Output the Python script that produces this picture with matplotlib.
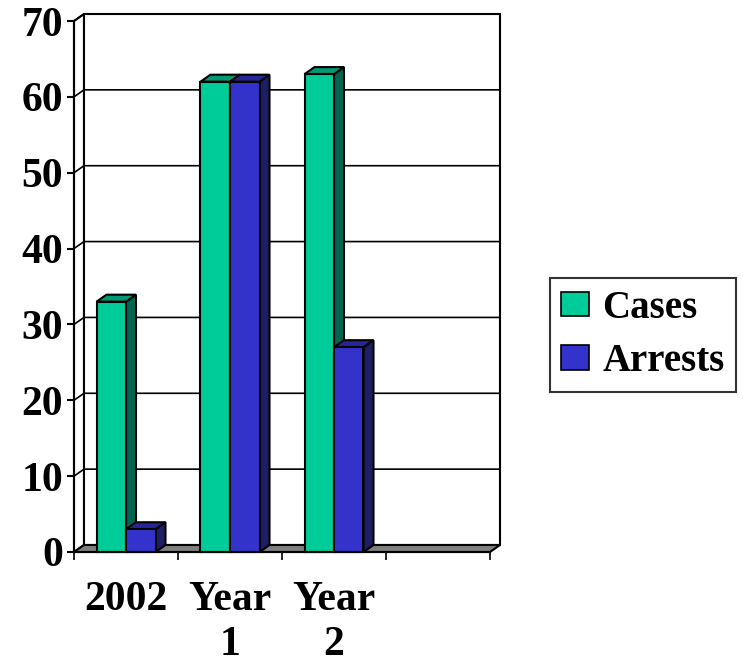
import matplotlib
matplotlib.use("Agg")
import matplotlib.pyplot as plt
from matplotlib.patches import Polygon, Patch

plt.rcParams["font.family"] = ["Liberation Serif", "DejaVu Serif"]
plt.rcParams["font.weight"] = "bold"

categories = ["2002", "Year\n1", "Year\n2"]
n_slots = 4  # the category axis keeps one empty slot on the right
cases = [33, 62, 63]
arrests = [3, 62, 27]
yticks = [0, 10, 20, 30, 40, 50, 60, 70]

series = [
    ("Cases", cases, "#00CC99", "#009973", "#006650"),
    ("Arrests", arrests, "#3333CC", "#262699", "#1E1E66"),
]

fig = plt.figure(figsize=(7.43, 6.63), dpi=100)
W, H = 743, 663
ax = fig.add_axes([74 / W, 111 / H, 416 / W, 531 / H])
ax.set_xlim(0, n_slots)
ax.set_ylim(0, 70)

# depth offset of the pseudo-3D box, in data units
dx = 10 / 104
dy = 7 / (531 / 70)
ytop = yticks[-1]
lw = 1.5

# left side wall and back wall
ax.add_patch(Polygon([(0, 0), (dx, dy), (dx, ytop + dy), (0, ytop)],
                     facecolor="white", edgecolor="black", lw=lw, clip_on=False, zorder=1))
ax.add_patch(Polygon([(dx, dy), (n_slots + dx, dy), (n_slots + dx, ytop + dy), (dx, ytop + dy)],
                     facecolor="white", edgecolor="black", lw=lw, clip_on=False, zorder=1))
for y in yticks[1:]:
    ax.plot([0, dx, n_slots + dx], [y, y + dy, y + dy], color="black", lw=1.2,
            clip_on=False, zorder=2)

# floor
ax.add_patch(Polygon([(0, 0), (n_slots, 0), (n_slots + dx, dy), (dx, dy)],
                     facecolor="#808080", edgecolor="black", lw=lw, clip_on=False, zorder=3))

gap = 22.5 / 104
width = 29.5 / 104
for i in range(len(categories)):
    for k, (name, vals, front, top, side) in enumerate(series):
        v = vals[i]
        xl = i + gap + k * width
        xr = xl + width
        kw = dict(edgecolor="black", lw=lw, clip_on=False, zorder=4 + k)
        ax.add_patch(Polygon([(xr, 0), (xr + dx, dy), (xr + dx, v + dy), (xr, v)],
                             facecolor=side, **kw))
        ax.add_patch(Polygon([(xl, v), (xr, v), (xr + dx, v + dy), (xl + dx, v + dy)],
                             facecolor=top, **kw))
        ax.add_patch(Polygon([(xl, 0), (xr, 0), (xr, v), (xl, v)],
                             facecolor=front, **kw))

for s in ["top", "right"]:
    ax.spines[s].set_visible(False)
for s in ["left", "bottom"]:
    ax.spines[s].set_linewidth(lw)
    ax.spines[s].set_zorder(10)

ax.set_yticks(yticks)
ax.set_yticklabels([str(t) for t in yticks], fontsize=30, fontweight="bold")
ax.tick_params(axis="y", direction="out", length=5, width=lw, pad=3)

ax.set_xticks(range(n_slots + 1))
ax.set_xticklabels([])
ax.tick_params(axis="x", which="major", direction="out", length=6, width=1.2)
ax.set_xticks([i + 0.5 for i in range(len(categories))], minor=True)
ax.set_xticklabels(categories, minor=True, fontsize=30, fontweight="bold", linespacing=1.25)
ax.tick_params(axis="x", which="minor", length=0, pad=21)

handles = [Patch(facecolor=c, edgecolor="black", lw=1.2) for _, _, c, _, _ in series]
leg = fig.legend(handles, [s[0] for s in series], loc="center",
                 bbox_to_anchor=(643 / W, 1 - 335 / H), prop={"size": 28, "weight": "bold"},
                 frameon=True, fancybox=False, edgecolor="black", handlelength=0.7,
                 handleheight=0.6, handletextpad=0.35, labelspacing=0.42, borderpad=0.3,
                 borderaxespad=0)
leg.get_frame().set_linewidth(lw)

fig.savefig("out.png", dpi=100)
